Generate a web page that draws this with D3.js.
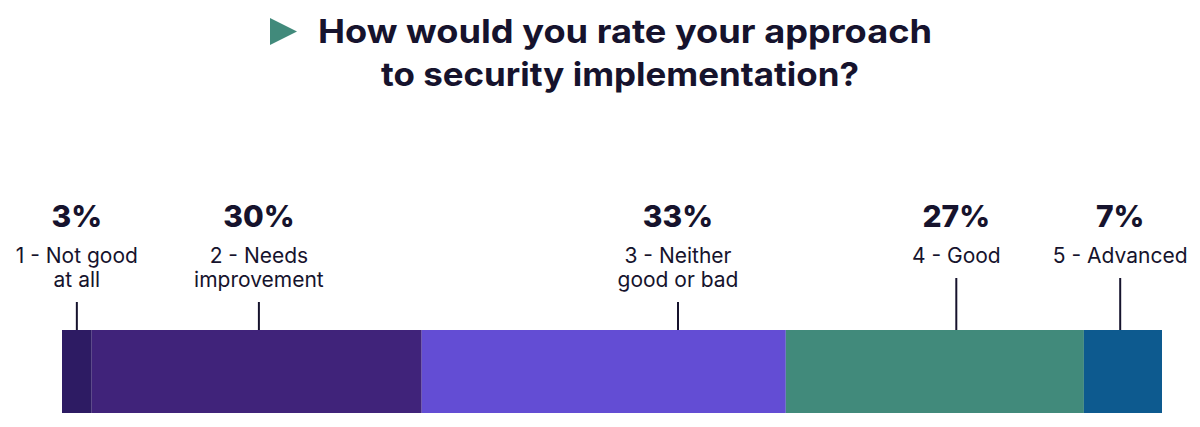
<!DOCTYPE html>
<html><head><meta charset="utf-8">
<script src="https://cdn.jsdelivr.net/npm/d3@7"></script>
<style>body{margin:0;background:#fff}</style>
</head><body><div id="chart"></div>
<script>
const categories = [["1 - Not good", "at all"], ["2 - Needs", "improvement"], ["3 - Neither", "good or bad"], ["4 - Good"], ["5 - Advanced"]];
const values = [2.7, 30, 33.1, 27.1, 7.1];
const pctLabels = ["3%", "30%", "33%", "27%", "7%"];
// where each callout points along the bar, in the same % units as values
const labelAt = [1.35, 17.9, 56.0, 81.3, 96.2];
const colors = ["#2d1b63", "#40237a", "#634dd4", "#418a7b", "#0d5a8f"];

const width = 1200, height = 427;
const svg = d3.select("#chart").append("svg")
    .attr("width", width).attr("height", height)
    .style("font-family", "Inter, 'Open Sans', sans-serif");

const ink = "#16132d";

// title
svg.append("path")
    .attr("d", "M270,18 L297,31.5 L270,45 Z")
    .attr("fill", "#418a7b");
const title = svg.append("text")
    .attr("fill", ink)
    .style("font-size", "33px").style("font-weight", 700);
title.append("tspan").attr("x", 318).attr("y", 43)
    .attr("textLength", 614).attr("lengthAdjust", "spacingAndGlyphs")
    .text("How would you rate your approach");
title.append("tspan").attr("x", 381).attr("y", 86)
    .attr("textLength", 478).attr("lengthAdjust", "spacingAndGlyphs")
    .text("to security implementation?");

let acc = 0;
const segs = values.map((v, i) => {
    const s = {v, i, start: acc};
    acc += v;
    return s;
});

const x = d3.scaleLinear().domain([0, acc]).range([62, 1162]);
const barTop = 330, barH = 83;

svg.selectAll("rect.seg")
    .data(segs).enter().append("rect")
    .attr("x", d => x(d.start))
    .attr("width", d => x(d.start + d.v) - x(d.start))
    .attr("y", barTop).attr("height", barH)
    .attr("fill", d => colors[d.i]);

const lab = svg.selectAll("g.lab").data(segs).enter().append("g");

lab.append("line")
    .attr("x1", d => x(labelAt[d.i])).attr("x2", d => x(labelAt[d.i]))
    .attr("y1", d => categories[d.i].length > 1 ? 302 : 278)
    .attr("y2", barTop)
    .attr("stroke", ink).attr("stroke-width", 2);

lab.append("text")
    .attr("x", d => x(labelAt[d.i])).attr("y", 227)
    .attr("text-anchor", "middle").attr("fill", ink)
    .style("font-size", "30px").style("font-weight", 800)
    .text(d => pctLabels[d.i]);

lab.each(function (d) {
    const t = d3.select(this).append("text")
        .attr("text-anchor", "middle").attr("fill", ink)
        .style("font-size", "21px");
    categories[d.i].forEach((line, k) => {
        t.append("tspan").attr("x", x(labelAt[d.i])).attr("y", 263 + k * 24).text(line);
    });
});
</script>
</body></html>
